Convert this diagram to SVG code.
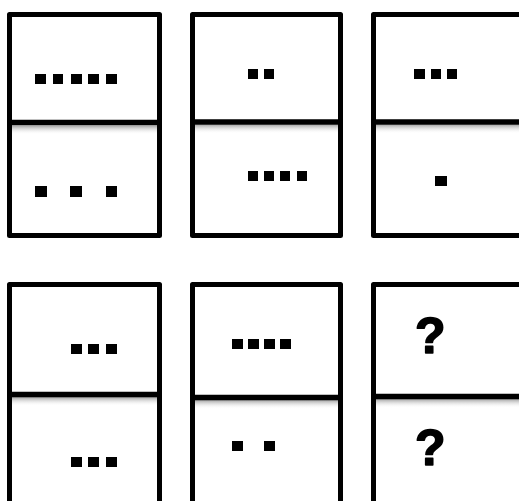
<svg xmlns="http://www.w3.org/2000/svg" width="519" height="501" viewBox="0 0 519 501">
<defs>
<linearGradient id="sh" x1="0" y1="0" x2="0" y2="1">
<stop offset="0" stop-color="#8a8a8a" stop-opacity="0.8"/>
<stop offset="1" stop-color="#ffffff" stop-opacity="0"/>
</linearGradient>
</defs>
<style>
.card{fill:#fff;stroke:#000;stroke-width:5;stroke-linejoin:round}
.div{stroke:#000;stroke-width:5.5}
.dot{fill:#000}
.q{font-family:"Liberation Sans",Arial,sans-serif;font-weight:bold;font-size:50px;fill:#000;stroke:#000;stroke-width:1.6;stroke-linejoin:round}
</style>
<rect width="519" height="501" fill="#fff"/>
<g id="card1">
<rect class="card" x="9.5" y="14.5" width="150" height="221"/>
<rect x="12" y="125.5" width="145" height="9" fill="url(#sh)"/>
<line class="div" x1="9.5" y1="122.5" x2="159.5" y2="122.5"/>
<rect class="dot" x="35" y="74" width="11" height="10"/><rect class="dot" x="53" y="74" width="10" height="10"/><rect class="dot" x="71" y="74" width="11" height="10"/><rect class="dot" x="88" y="74" width="11" height="10"/><rect class="dot" x="106" y="74" width="11" height="10"/>
<rect class="dot" x="35" y="186" width="12" height="11"/><rect class="dot" x="70" y="186" width="12" height="11"/><rect class="dot" x="106" y="186" width="11" height="11"/>
</g>
<g id="card2">
<rect class="card" x="192.5" y="14.5" width="148" height="221"/>
<rect x="195" y="124.5" width="143" height="9" fill="url(#sh)"/>
<line class="div" x1="192.5" y1="122" x2="340.5" y2="122"/>
<rect class="dot" x="248" y="69" width="10" height="10"/><rect class="dot" x="264" y="69" width="10" height="10"/>
<rect class="dot" x="248" y="171" width="10" height="10"/><rect class="dot" x="264" y="171" width="10" height="10"/><rect class="dot" x="280" y="171" width="10" height="10"/><rect class="dot" x="297" y="171" width="10" height="10"/>
</g>
<g id="card3">
<rect class="card" x="373.5" y="14.5" width="160" height="221"/>
<rect x="376" y="124.5" width="143" height="9" fill="url(#sh)"/>
<line class="div" x1="373.5" y1="122" x2="530" y2="122"/>
<rect class="dot" x="414" y="69" width="11" height="10"/><rect class="dot" x="431" y="69" width="10" height="10"/><rect class="dot" x="447" y="69" width="10" height="10"/>
<rect class="dot" x="435" y="176" width="12" height="10"/>
</g>
<g id="card4">
<rect class="card" x="9.5" y="284.5" width="150" height="240"/>
<rect x="12" y="397" width="145" height="9" fill="url(#sh)"/>
<line class="div" x1="9.5" y1="394.5" x2="159.5" y2="394.5"/>
<rect class="dot" x="71" y="344" width="11" height="10"/><rect class="dot" x="88" y="344" width="11" height="10"/><rect class="dot" x="106" y="344" width="11" height="10"/>
<rect class="dot" x="71" y="457" width="11" height="10"/><rect class="dot" x="88" y="457" width="11" height="10"/><rect class="dot" x="106" y="457" width="11" height="10"/>
</g>
<g id="card5">
<rect class="card" x="192.5" y="284.5" width="148" height="240"/>
<rect x="195" y="400" width="143" height="9" fill="url(#sh)"/>
<line class="div" x1="192.5" y1="397.5" x2="340.5" y2="397.5"/>
<rect class="dot" x="232" y="339" width="11" height="10"/><rect class="dot" x="248" y="339" width="11" height="10"/><rect class="dot" x="264" y="339" width="11" height="10"/><rect class="dot" x="280" y="339" width="11" height="10"/>
<rect class="dot" x="232" y="441" width="11" height="10"/><rect class="dot" x="264" y="441" width="11" height="10"/>
</g>
<g id="card6">
<rect class="card" x="373.5" y="284.5" width="160" height="240"/>
<rect x="376" y="399" width="143" height="9" fill="url(#sh)"/>
<line class="div" x1="373.5" y1="396.5" x2="530" y2="396.5"/>
<text class="q" x="415" y="353">?</text>
<text class="q" x="415" y="465">?</text>
</g>
<g id="connectors"/>
</svg>
